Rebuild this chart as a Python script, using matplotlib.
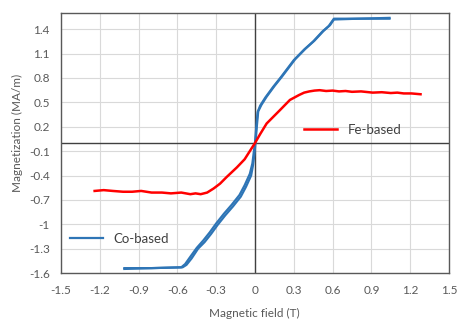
import matplotlib.pyplot as plt
import numpy as np

# Co-based loop, two branches (nearly overlapping)
co_x1 = [-1.01, -0.80, -0.57, -0.54, -0.50, -0.45, -0.40, -0.35, -0.30, -0.24, -0.18, -0.12,
         -0.08, -0.04, -0.02, -0.01, 0.0, 0.01, 0.02, 0.04, 0.08, 0.14, 0.20, 0.30, 0.38,
         0.45, 0.52, 0.57, 0.61, 0.80, 1.04]
co_y1 = [-1.54, -1.54, -1.53, -1.49, -1.40, -1.29, -1.20, -1.10, -0.99, -0.87, -0.76, -0.64,
         -0.52, -0.38, -0.25, -0.12, 0.0, 0.20, 0.38, 0.46, 0.56, 0.69, 0.81, 1.02, 1.15,
         1.25, 1.37, 1.44, 1.53, 1.53, 1.54]
co_x2 = [-1.01, -0.80, -0.56, -0.53, -0.49, -0.44, -0.39, -0.34, -0.29, -0.23, -0.17, -0.11,
         -0.07, -0.03, -0.015, -0.005, 0.005, 0.015, 0.025, 0.05, 0.09, 0.15, 0.21, 0.31, 0.39,
         0.46, 0.53, 0.58, 0.61, 0.80, 1.04]
co_y2 = [-1.55, -1.54, -1.53, -1.50, -1.42, -1.30, -1.22, -1.12, -1.01, -0.89, -0.78, -0.66,
         -0.54, -0.40, -0.27, -0.14, 0.02, 0.22, 0.39, 0.47, 0.57, 0.70, 0.82, 1.03, 1.16,
         1.26, 1.38, 1.45, 1.52, 1.53, 1.53]

# Fe-based
fe_x = [-1.24, -1.17, -1.10, -1.02, -0.95, -0.88, -0.80, -0.72, -0.65, -0.57, -0.50, -0.46,
        -0.42, -0.37, -0.32, -0.27, -0.22, -0.14, -0.08, -0.04, 0.0, 0.04, 0.09, 0.14, 0.19,
        0.27, 0.34, 0.38, 0.42, 0.46, 0.50, 0.55, 0.60, 0.65, 0.70, 0.75, 0.82, 0.91, 0.98,
        1.05, 1.10, 1.15, 1.21, 1.28]
fe_y = [-0.59, -0.58, -0.59, -0.60, -0.60, -0.59, -0.61, -0.61, -0.62, -0.61, -0.63, -0.62,
        -0.63, -0.61, -0.56, -0.50, -0.42, -0.30, -0.20, -0.10, 0.0, 0.11, 0.24, 0.32, 0.40,
        0.53, 0.59, 0.62, 0.635, 0.645, 0.65, 0.64, 0.645, 0.635, 0.64, 0.63, 0.635, 0.62,
        0.625, 0.615, 0.62, 0.61, 0.61, 0.60]

xticks = [-1.5, -1.2, -0.9, -0.6, -0.3, 0, 0.3, 0.6, 0.9, 1.2, 1.5]
xlabels = ['-1.5', '-1.2', '-0.9', '-0.6', '-0.3', '0', '0.3', '0.6', '0.9', '1.2', '1.5']
yticks = [-1.6, -1.3, -1.0, -0.7, -0.4, -0.1, 0.2, 0.5, 0.8, 1.1, 1.4]
ylabels = ['-1.6', '-1.3', '-1', '-0.7', '-0.4', '-0.1', '0.2', '0.5', '0.8', '1.1', '1.4']

plt.rcParams['font.family'] = ['Lato', 'DejaVu Sans']

fig = plt.figure(figsize=(4.57, 3.2), dpi=100)
ax = fig.add_axes([61/457, 1-273/320, 388/457, 260/320])

blue = '#2E75B6'
red = '#FF0000'
ax.plot(co_x1, co_y1, color=blue, lw=1.6, zorder=3)
l_co, = ax.plot(co_x2, co_y2, color=blue, lw=1.6, zorder=3)
l_fe, = ax.plot(fe_x, fe_y, color=red, lw=1.8, zorder=3)

ax.axhline(0, color='#404040', lw=1.0, zorder=2)
ax.axvline(0, color='#404040', lw=1.0, zorder=2)

ax.set_xlim(-1.5, 1.5)
ax.set_ylim(-1.6, 1.6)
ax.set_xticks(xticks)
ax.set_xticklabels(xlabels)
ax.set_yticks(yticks)
ax.set_yticklabels(ylabels)
ax.grid(True, color='#d9d9d9', lw=0.8, zorder=0)
ax.tick_params(length=0, labelsize=8.5, labelcolor='#595959')
ax.tick_params(axis='x', pad=9)
ax.tick_params(axis='y', pad=8)
for s in ax.spines.values():
    s.set_color('#595959')
    s.set_linewidth(1.0)

fig.text(254/457, 1-313/320, 'Magnetic field (T)', ha='center', va='center',
         fontsize=8.5, color='#595959')
fig.text(17/457, 1-133/320, 'Magnetization (MA/m)', ha='center', va='center',
         rotation=90, fontsize=8.5, color='#595959')

leg1 = ax.legend([l_fe], ['Fe-based'], loc='center left', frameon=False,
                 bbox_to_anchor=(304/457, 1-130/320), bbox_transform=fig.transFigure,
                 borderpad=0, borderaxespad=0, handlelength=2.5, handletextpad=0.8,
                 fontsize=9.5, labelcolor='#404040')
ax.add_artist(leg1)
ax.legend([l_co], ['Co-based'], loc='center left', frameon=False,
          bbox_to_anchor=(70/457, 1-239/320), bbox_transform=fig.transFigure,
          borderpad=0, borderaxespad=0, handlelength=2.5, handletextpad=0.8,
          fontsize=9.5, labelcolor='#404040')

fig.savefig('out.png', dpi=100)
